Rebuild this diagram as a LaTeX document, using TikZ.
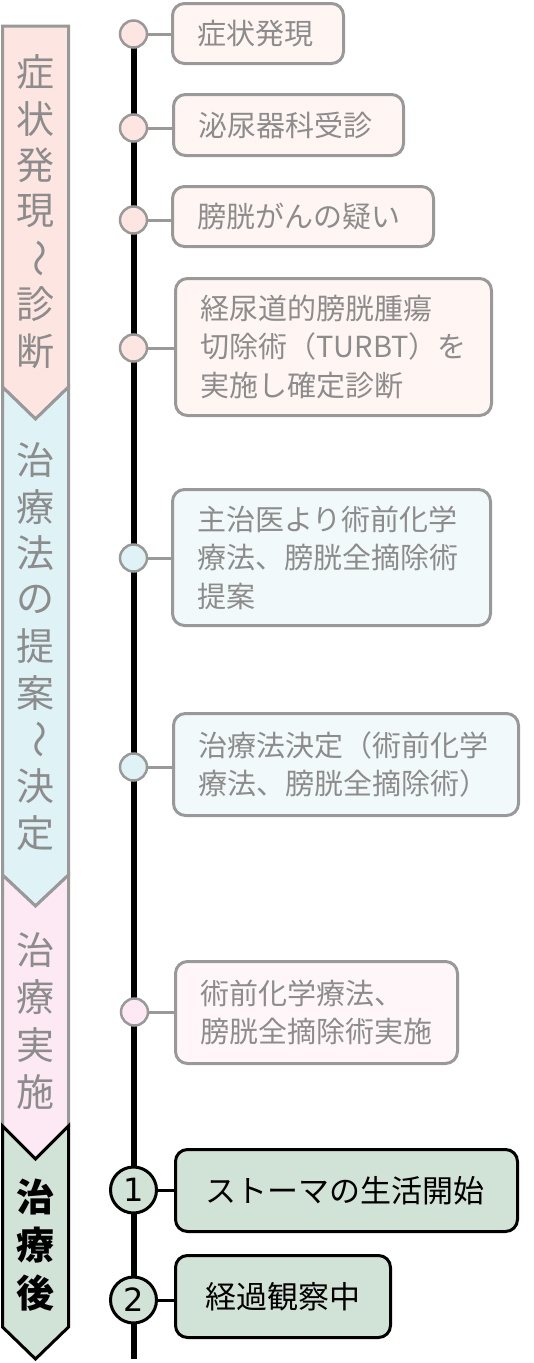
\documentclass[tikz,border=0pt]{standalone}
\usepackage{fontspec}
\setmainfont{Noto Sans CJK JP}
\newfontfamily\digitfont{DejaVu Sans}
\definecolor{bordergray}{HTML}{999999}
\definecolor{txtgray}{HTML}{8C8C8C}
\definecolor{pinkA}{HTML}{FDE6E1}
\definecolor{pinkBox}{HTML}{FFF5F3}
\definecolor{blueA}{HTML}{DFF2F6}
\definecolor{blueBox}{HTML}{F2F9FB}
\definecolor{roseA}{HTML}{FCE9F4}
\definecolor{roseBox}{HTML}{FFF6FA}
\definecolor{greenA}{HTML}{D1E2D7}
\begin{document}
\begin{tikzpicture}[x=1pt,y=-1pt,
  every node/.style={inner sep=0pt, outer sep=0pt},
  seg/.style={line width=3pt, line join=miter},
  bantxt/.style={text=txtgray, font=\fontsize{38}{38}\selectfont},
  banbold/.style={text=black, font=\fontsize{38}{38}\selectfont\bfseries},
  spine/.style={line width=6pt, draw=black},
  dot/.style={circle, draw=bordergray, line width=2.5pt, minimum size=27pt},
  numdot/.style={circle, draw=black, fill=greenA, line width=3pt, minimum size=46pt,
    font=\digitfont\fontsize{32}{32}\selectfont},
  pbox/.style={draw=bordergray, line width=3pt, rounded corners=12pt, inner xsep=25pt,
    align=left, text=txtgray, font=\fontsize{29}{38.5}\selectfont},
  gbox/.style={draw=black, fill=greenA, line width=3pt, rounded corners=12pt, inner xsep=30pt,
    align=left, text=black, font=\fontsize{31}{40}\selectfont},
  conn/.style={draw=bordergray, line width=3pt},
  gconn/.style={draw=black, line width=3pt}
]
\useasboundingbox (0,0) rectangle (533,1363);

% left banner segments
\path[seg, draw=bordergray, fill=pinkA] (2.5,26) -- (68.5,26) -- (68.5,387) -- (35.5,419) -- (2.5,387) -- cycle;
\path[seg, draw=bordergray, fill=blueA] (2.5,387) -- (35.5,419) -- (68.5,387) -- (68.5,875) -- (35.5,906) -- (2.5,875) -- cycle;
\path[seg, draw=bordergray, fill=roseA] (2.5,875) -- (35.5,906) -- (68.5,875) -- (68.5,1126) -- (35.5,1159) -- (2.5,1126) -- cycle;
\path[seg, draw=black, fill=greenA] (2.5,1126) -- (35.5,1159) -- (68.5,1126) -- (68.5,1327) -- (35.5,1359) -- (2.5,1327) -- cycle;

% banner texts
\foreach \c [count=\i from 0] in {症,状,発,現,{\rotatebox[origin=c]{-90}{〜}},診,断}
  \node[bantxt] (sa\i) at (35.5,72+46.5*\i) {\c};
\foreach \c [count=\i from 0] in {治,療,法,の,提,案,{\rotatebox[origin=c]{-90}{〜}},決,定}
  \node[bantxt] (sb\i) at (35.5,460+46.6*\i) {\c};
\foreach \c [count=\i from 0] in {治,療,実,施}
  \node[bantxt] (sc\i) at (35.5,950+47.5*\i) {\c};
\foreach \c [count=\i from 0] in {治,療,後}
  \node[banbold] (sd\i) at (35.5,1197+48*\i) {\c};

% spine
\coordinate (ltop) at (133.5,34);
\coordinate (lbot) at (133.5,1359);
\draw[spine] (ltop) -- (lbot);

% circles
\node[dot, fill=pinkA] (c1) at (133.5,34) {};
\node[dot, fill=pinkA] (c2) at (133.5,128) {};
\node[dot, fill=pinkA] (c3) at (133.5,220) {};
\node[dot, fill=pinkA] (c4) at (133.5,348) {};
\node[dot, fill=blueA] (c5) at (133.5,558) {};
\node[dot, fill=blueA] (c6) at (133.5,767) {};
\node[dot, fill=roseA] (c7) at (134.5,1012) {};
\node[numdot] (c8) at (133.5,1190) {1};
\node[numdot] (c9) at (133.5,1300) {2};

% boxes
\node[pbox, fill=pinkBox, text width=121pt, minimum height=60pt] (b1) at (258,33.5) {症状発現};
\node[pbox, fill=pinkBox, text width=180pt, minimum height=61pt] (b2) at (288.5,125) {泌尿器科受診};
\node[pbox, fill=pinkBox, text width=211pt, minimum height=60pt] (b3) at (303,216.5) {膀胱がんの疑い};
\node[pbox, fill=pinkBox, text width=266pt, minimum height=137pt] (b4) at (333.5,347) {経尿道的膀胱腫瘍\\切除術（TURBT）を\\実施し確定診断};
\node[pbox, fill=blueBox, text width=268pt, minimum height=136pt] (b5) at (331.5,557.5) {主治医より術前化学\\療法、膀胱全摘除術\\提案};
\node[pbox, fill=blueBox, text width=295pt, minimum height=102pt] (b6) at (346,764.5) {治療法決定（術前化学\\療法、膀胱全摘除術）};
\node[pbox, fill=roseBox, text width=232pt, minimum height=102pt] (b7) at (316.5,1012.5) {術前化学療法、\\膀胱全摘除術実施};
\node[gbox, text width=282pt, minimum height=82pt] (b8) at (346.5,1190.5) {ストーマの生活開始};
\node[gbox, text width=155pt, minimum height=82pt] (b9) at (283,1296.5) {経過観察中};

% connectors
\foreach \k in {1,...,7}
  \draw[conn] (c\k) -- (c\k -| b\k.west);
\foreach \k in {8,9}
  \draw[gconn] (c\k) -- (c\k -| b\k.west);
\end{tikzpicture}
\end{document}
